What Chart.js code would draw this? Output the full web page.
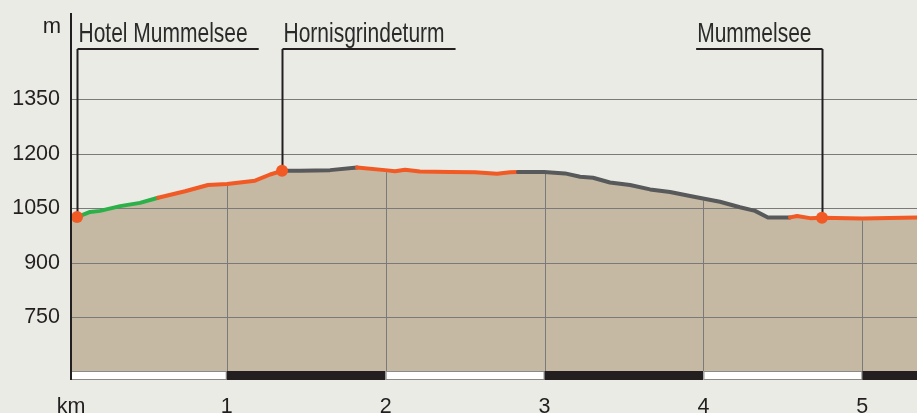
<!DOCTYPE html>
<html lang="de">
<head>
<meta charset="UTF-8">
<title>Höhenprofil Mummelsee – Hornisgrinde</title>
<style>
  html, body { margin: 0; padding: 0; background: #ebebe6; }
  canvas { display: block; }
</style>
<script src="https://cdn.jsdelivr.net/npm/chart.js"></script>
</head>
<body>
<canvas id="profil" width="917" height="413"></canvas>
<script>
// Streckenprofil: Entfernung (km) und Höhe (m)
const profileKm = [0.020, 0.058, 0.140, 0.203, 0.329, 0.454, 0.568, 0.738, 0.882, 1.002,
  1.178, 1.273, 1.348, 1.461, 1.650, 1.820, 1.996, 2.059, 2.122, 2.216,
  2.405, 2.563, 2.701, 2.783, 2.833, 2.997, 3.129, 3.224, 3.305, 3.412,
  3.538, 3.664, 3.790, 3.916, 3.997, 4.104, 4.230, 4.325, 4.406, 4.545,
  4.589, 4.671, 4.746, 4.998, 5.344];
const profileElev = [1025, 1026, 1040, 1043, 1056, 1065, 1079, 1097, 1114, 1117,
  1126, 1143, 1153, 1153, 1155, 1162, 1155, 1152, 1156, 1151,
  1150, 1149, 1145, 1149, 1150, 1150, 1146, 1137, 1134, 1121,
  1114, 1102, 1095, 1084, 1077, 1068, 1053, 1043, 1025, 1025,
  1029, 1023, 1024, 1022, 1025];

// Wegabschnitte: Ende (km) und Belag
const sectionEnds = [0.058, 0.568, 1.348, 1.820, 2.833, 4.545, 5.344];
const sectionTypes = ['strasse', 'forstweg', 'pfad', 'strasse', 'pfad', 'strasse', 'pfad'];

// Wegpunkte
const poiNames = ['Hotel Mummelsee', 'Hornisgrindeturm', 'Mummelsee'];
const poiKm = [0.058, 1.348, 4.746];
const poiElev = [1026, 1153, 1024];
const poiSide = ['right', 'right', 'left'];

// Achsen
const yTicks = [750, 900, 1050, 1200, 1350];
const kmTicks = [1, 2, 3, 4, 5];
const yMin = 600;
const yMax = 1587;

const colors = {
  strasse: '#58595b',
  forstweg: '#2bb04a',
  pfad: '#f15a24',
  fill: '#c5b9a3',
  grid: '#7a7a78',
  ink: '#231f20'
};

function sectionColor(km) {
  for (let i = 0; i < sectionEnds.length; i++) {
    if (km <= sectionEnds[i]) return colors[sectionTypes[i]];
  }
  return colors[sectionTypes[sectionTypes.length - 1]];
}

function elevAt(km) {
  for (let i = 1; i < profileKm.length; i++) {
    if (km <= profileKm[i]) {
      const t = (km - profileKm[i - 1]) / (profileKm[i] - profileKm[i - 1]);
      return profileElev[i - 1] + t * (profileElev[i] - profileElev[i - 1]);
    }
  }
  return profileElev[profileElev.length - 1];
}

const points = profileKm.map((km, i) => ({ x: km, y: profileElev[i] }));

const profileDecor = {
  id: 'profileDecor',
  afterDatasetDraw(chart, args) {
    const { ctx, chartArea, scales: { x, y } } = chart;
    if (args.index === 0) {
      // Gitterlinien über der Fläche
      ctx.save();
      ctx.strokeStyle = colors.grid;
      ctx.lineWidth = 1;
      yTicks.forEach((v) => {
        const py = Math.round(y.getPixelForValue(v)) + 0.5;
        ctx.beginPath();
        ctx.moveTo(chartArea.left, py);
        ctx.lineTo(chartArea.right, py);
        ctx.stroke();
      });
      kmTicks.forEach((k) => {
        const px = Math.round(x.getPixelForValue(k)) + 0.5;
        const top = y.getPixelForValue(elevAt(k)) + 2;
        ctx.beginPath();
        ctx.moveTo(px, top);
        ctx.lineTo(px, chartArea.bottom);
        ctx.stroke();
      });
      ctx.restore();
    }
    if (args.index === 1) {
      // Beschriftung der Wegpunkte (schmale Schrift)
      ctx.save();
      ctx.strokeStyle = colors.ink;
      ctx.lineWidth = 2;
      ctx.font = '28px "Liberation Sans", Arial, sans-serif';
      ctx.textBaseline = 'alphabetic';
      ctx.textAlign = 'left';
      const squeeze = 0.75;
      const lineY = 49;
      poiNames.forEach((name, i) => {
        const px = Math.round(x.getPixelForValue(poiKm[i])) + 0.5;
        const py = y.getPixelForValue(poiElev[i]);
        const tw = ctx.measureText(name).width * squeeze;
        const w = tw + 12;
        const left = poiSide[i] === 'right' ? px : px - w;
        ctx.beginPath();
        ctx.moveTo(px, py);
        ctx.lineTo(px, lineY);
        ctx.stroke();
        ctx.beginPath();
        ctx.moveTo(left, lineY);
        ctx.lineTo(left + w, lineY);
        ctx.stroke();
        ctx.save();
        ctx.translate(left + 1, lineY - 7);
        ctx.scale(squeeze, 1);
        ctx.fillStyle = '#2a2a2a';
        ctx.fillText(name, 0, 0);
        ctx.restore();
      });
      ctx.restore();
    }
  },
  afterDraw(chart) {
    const { ctx, chartArea, scales: { x, y } } = chart;
    ctx.save();
    // Kilometerbalken
    const edges = [x.min, ...kmTicks, x.max];
    for (let i = 0; i < edges.length - 1; i++) {
      const x0 = x.getPixelForValue(edges[i]);
      const x1 = x.getPixelForValue(edges[i + 1]);
      ctx.fillStyle = i % 2 === 0 ? '#ffffff' : '#231f20';
      ctx.fillRect(x0, chartArea.bottom - 1, x1 - x0, 9);
      if (i % 2 === 0) {
        ctx.strokeStyle = '#8a8a88';
        ctx.lineWidth = 1;
        ctx.strokeRect(x0 + 0.5, chartArea.bottom - 0.5, x1 - x0 - 1, 8);
      }
    }
    // Höhenachse
    ctx.strokeStyle = colors.ink;
    ctx.lineWidth = 2;
    ctx.beginPath();
    ctx.moveTo(chartArea.left, chartArea.top);
    ctx.lineTo(chartArea.left, chartArea.bottom + 8);
    ctx.stroke();
    // Einheit
    ctx.fillStyle = colors.ink;
    ctx.font = '22px "Liberation Sans", Arial, sans-serif';
    ctx.textAlign = 'right';
    ctx.textBaseline = 'alphabetic';
    ctx.fillText('m', y.right - 10, chartArea.top + 20);
    ctx.restore();
  }
};

Chart.defaults.font.family = '"Liberation Sans", Arial, sans-serif';
Chart.defaults.color = colors.ink;

new Chart(document.getElementById('profil'), {
  type: 'line',
  data: {
    datasets: [
      {
        label: 'Fläche',
        data: points,
        order: 3,
        fill: 'start',
        backgroundColor: colors.fill,
        borderWidth: 0,
        pointRadius: 0,
        tension: 0
      },
      {
        label: 'Höhe',
        data: points,
        order: 2,
        fill: false,
        borderWidth: 4,
        borderColor: colors.strasse,
        borderCapStyle: 'round',
        borderJoinStyle: 'round',
        pointRadius: 0,
        tension: 0,
        segment: {
          borderColor: (c) => sectionColor((c.p0.parsed.x + c.p1.parsed.x) / 2)
        }
      },
      {
        label: 'Wegpunkte',
        data: poiKm.map((km, i) => ({ x: km, y: poiElev[i] })),
        order: 1,
        showLine: false,
        pointRadius: 6,
        pointBackgroundColor: colors.pfad,
        pointBorderWidth: 0
      }
    ]
  },
  options: {
    responsive: false,
    devicePixelRatio: 1,
    animation: false,
    layout: { autoPadding: false, padding: { top: 13, right: 0, left: 0, bottom: 0 } },
    plugins: { legend: { display: false }, tooltip: { enabled: false } },
    scales: {
      x: {
        type: 'linear',
        min: profileKm[0],
        max: profileKm[profileKm.length - 1],
        grid: { display: false },
        border: { display: false },
        afterBuildTicks: (scale) => {
          scale.ticks = [scale.min, ...kmTicks].map((value) => ({ value }));
        },
        afterFit: (scale) => {
          scale.height = 41;
          scale.paddingLeft = 0;
          scale.paddingRight = 0;
        },
        ticks: {
          autoSkip: false,
          maxRotation: 0,
          padding: 14,
          font: { size: 21.5 },
          callback: (v, i) => (i === 0 ? 'km' : String(v))
        }
      },
      y: {
        type: 'linear',
        min: yMin,
        max: yMax,
        grid: { display: false, drawTicks: false },
        border: { display: false },
        afterBuildTicks: (scale) => {
          scale.ticks = yTicks.map((value) => ({ value }));
        },
        afterFit: (scale) => {
          scale.width = 71;
          scale.paddingTop = 0;
          scale.paddingBottom = 0;
        },
        ticks: {
          padding: 11,
          font: { size: 21.5 },
          callback: (v) => String(v)
        }
      }
    }
  },
  plugins: [profileDecor]
});
</script>
</body>
</html>
